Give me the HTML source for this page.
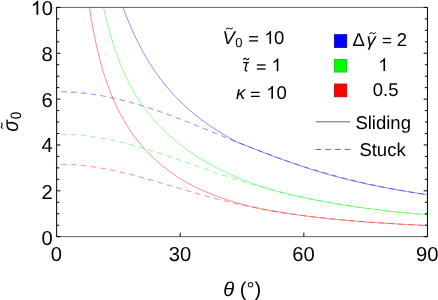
<!DOCTYPE html>
<html><head><meta charset="utf-8"><title>plot</title>
<style>
html,body{margin:0;padding:0;background:#fff;}
svg{display:block;will-change:transform;}
text{font-family:"Liberation Sans",sans-serif;fill:#000;text-rendering:geometricPrecision;}
.t19{font-size:20.2px;}
.t18{font-size:18.5px;}
.it{font-style:italic;}
</style></head><body>
<svg width="438" height="300" viewBox="0 0 438 300">
<rect x="0" y="0" width="438" height="300" fill="#fff"/>
<defs><clipPath id="cp"><rect x="56.65" y="7.42" width="370.8" height="229.23000000000002"/></clipPath></defs>
<g clip-path="url(#cp)" fill="none" stroke-width="0.9" stroke-opacity="0.5" stroke-linejoin="round">
<path d="M57.00,91.68 L61.11,91.71 L65.22,91.82 L69.33,91.99 L73.44,92.24 L77.56,92.55 L81.67,92.93 L85.78,93.38 L89.89,93.89 L94.00,94.47 L98.11,95.12 L102.22,95.83 L106.33,96.60 L110.44,97.44 L114.56,98.33 L118.67,99.28 L122.78,100.29 L126.89,101.35 L131.00,102.47 L135.11,103.63 L139.22,104.85 L143.33,106.11 L147.44,107.42 L151.56,108.77 L155.67,110.15 L159.78,111.58 L163.89,113.04 L168.00,114.53 L172.11,116.06 L176.22,117.61 L180.33,119.18 L184.44,120.78 L188.56,122.39 L192.67,124.03 L196.78,125.67 L200.89,127.33 L205.00,129.00 L209.11,130.68 L213.22,132.36 L217.33,134.04 L221.44,135.72 L225.56,137.40 L229.67,139.07 L233.78,140.74 L237.89,142.40 L242.00,144.04 L246.11,145.68 L250.22,147.30 L254.33,148.90 L258.44,150.49 L262.56,152.05 L266.67,153.60 L270.78,155.13 L274.89,156.63 L279.00,158.12 L283.11,159.57 L287.22,161.01 L291.33,162.41 L295.44,163.80 L299.56,165.15 L303.67,166.48 L307.78,167.79 L311.89,169.06 L316.00,170.31 L320.11,171.53 L324.22,172.73 L328.33,173.90 L332.44,175.04 L336.56,176.15 L340.67,177.24 L344.78,178.30 L348.89,179.34 L353.00,180.35 L357.11,181.34 L361.22,182.30 L365.33,183.24 L369.44,184.15 L373.56,185.04 L377.67,185.91 L381.78,186.75 L385.89,187.57 L390.00,188.37 L394.11,189.15 L398.22,189.91 L402.33,190.65 L406.44,191.37 L410.56,192.07 L414.67,192.75 L418.78,193.41 L422.89,194.06 L427.00,194.69" stroke="#0000ff" stroke-dasharray="5.55 4.26" stroke-dashoffset="5.55"/>
<path d="M57.00,134.15 L61.11,134.19 L65.22,134.29 L69.33,134.47 L73.44,134.71 L77.56,135.02 L81.67,135.40 L85.78,135.85 L89.89,136.36 L94.00,136.94 L98.11,137.58 L102.22,138.28 L106.33,139.04 L110.44,139.86 L114.56,140.74 L118.67,141.67 L122.78,142.65 L126.89,143.68 L131.00,144.76 L135.11,145.89 L139.22,147.05 L143.33,148.26 L147.44,149.50 L151.56,150.77 L155.67,152.08 L159.78,153.41 L163.89,154.77 L168.00,156.14 L172.11,157.54 L176.22,158.95 L180.33,160.37 L184.44,161.80 L188.56,163.24 L192.67,164.68 L196.78,166.12 L200.89,167.56 L205.00,168.99 L209.11,170.41 L213.22,171.83 L217.33,173.23 L221.44,174.62 L225.56,175.99 L229.67,177.34 L233.78,178.67 L237.89,179.99 L242.00,181.28 L246.11,182.55 L250.22,183.79 L254.33,185.01 L258.44,186.20 L262.56,187.37 L266.67,188.50 L270.78,189.62 L274.89,190.70 L279.00,191.76 L283.11,192.79 L287.22,193.79 L291.33,194.77 L295.44,195.71 L299.56,196.64 L303.67,197.53 L307.78,198.40 L311.89,199.24 L316.00,200.06 L320.11,200.86 L324.22,201.63 L328.33,202.38 L332.44,203.10 L336.56,203.81 L340.67,204.49 L344.78,205.15 L348.89,205.79 L353.00,206.41 L357.11,207.01 L361.22,207.59 L365.33,208.16 L369.44,208.71 L373.56,209.24 L377.67,209.75 L381.78,210.25 L385.89,210.73 L390.00,211.20 L394.11,211.65 L398.22,212.09 L402.33,212.52 L406.44,212.93 L410.56,213.33 L414.67,213.72 L418.78,214.10 L422.89,214.46 L427.00,214.81" stroke="#00ff00" stroke-dasharray="5.55 4.26" stroke-dashoffset="5.55"/>
<path d="M57.00,164.19 L61.11,164.22 L65.22,164.33 L69.33,164.50 L73.44,164.75 L77.56,165.06 L81.67,165.43 L85.78,165.88 L89.89,166.39 L94.00,166.96 L98.11,167.59 L102.22,168.28 L106.33,169.03 L110.44,169.83 L114.56,170.68 L118.67,171.58 L122.78,172.53 L126.89,173.52 L131.00,174.55 L135.11,175.61 L139.22,176.71 L143.33,177.84 L147.44,178.99 L151.56,180.16 L155.67,181.35 L159.78,182.56 L163.89,183.77 L168.00,185.00 L172.11,186.22 L176.22,187.45 L180.33,188.67 L184.44,189.89 L188.56,191.09 L192.67,192.29 L196.78,193.47 L200.89,194.64 L205.00,195.78 L209.11,196.91 L213.22,198.01 L217.33,199.09 L221.44,200.15 L225.56,201.18 L229.67,202.18 L233.78,203.16 L237.89,204.10 L242.00,205.03 L246.11,205.92 L250.22,206.78 L254.33,207.62 L258.44,208.43 L262.56,209.22 L266.67,209.97 L270.78,210.70 L274.89,211.41 L279.00,212.09 L283.11,212.75 L287.22,213.38 L291.33,213.99 L295.44,214.58 L299.56,215.15 L303.67,215.69 L307.78,216.22 L311.89,216.73 L316.00,217.22 L320.11,217.69 L324.22,218.14 L328.33,218.58 L332.44,219.00 L336.56,219.41 L340.67,219.80 L344.78,220.18 L348.89,220.54 L353.00,220.90 L357.11,221.23 L361.22,221.56 L365.33,221.88 L369.44,222.18 L373.56,222.48 L377.67,222.76 L381.78,223.03 L385.89,223.30 L390.00,223.56 L394.11,223.80 L398.22,224.04 L402.33,224.27 L406.44,224.50 L410.56,224.71 L414.67,224.92 L418.78,225.12 L422.89,225.32 L427.00,225.51" stroke="#ff0000" stroke-dasharray="5.55 4.26" stroke-dashoffset="5.55"/>
<path d="M115.58,-14.54 L116.61,-11.24 L117.64,-8.03 L118.67,-4.90 L119.69,-1.84 L120.72,1.15 L121.75,4.06 L122.78,6.90 L123.81,9.69 L124.83,12.40 L125.86,15.06 L126.89,17.65 L127.92,20.19 L128.94,22.68 L129.97,25.11 L131.00,27.48 L132.03,29.81 L133.06,32.09 L134.08,34.32 L135.11,36.51 L136.14,38.65 L137.17,40.74 L138.19,42.80 L139.22,44.81 L140.25,46.78 L141.28,48.72 L142.31,50.62 L143.33,52.48 L144.36,54.30 L145.39,56.09 L146.42,57.85 L147.44,59.57 L148.47,61.26 L149.50,62.92 L150.53,64.55 L151.56,66.15 L152.58,67.73 L153.61,69.27 L154.64,70.79 L155.67,72.28 L156.69,73.74 L157.72,75.18 L158.75,76.59 L159.78,77.98 L160.81,79.35 L161.83,80.69 L162.86,82.01 L163.89,83.31 L164.92,84.59 L165.94,85.85 L166.97,87.09 L168.00,88.31 L169.03,89.50 L170.06,90.69 L171.08,91.85 L172.11,92.99 L173.14,94.12 L174.17,95.23 L175.19,96.32 L176.22,97.40 L177.25,98.46 L178.28,99.51 L179.31,100.54 L180.33,101.56 L184.44,105.48 L188.56,109.20 L192.67,112.73 L196.78,116.08 L200.89,119.28 L205.00,122.33 L209.11,125.24 L213.22,128.02 L217.33,130.69 L221.44,133.26 L225.56,135.72 L229.67,138.08 L233.78,140.36 L237.89,142.40 L242.00,144.04 L246.11,145.68 L250.22,147.31 L254.33,148.93 L258.44,150.53 L262.56,152.12 L266.67,153.70 L270.78,155.26 L274.89,156.80 L279.00,158.32 L283.11,159.82 L287.22,161.29 L291.33,162.74 L295.44,164.17 L299.56,165.56 L303.67,166.93 L307.78,168.27 L311.89,169.57 L316.00,170.85 L320.11,172.09 L324.22,173.31 L328.33,174.49 L332.44,175.63 L336.56,176.75 L340.67,177.83 L344.78,178.88 L348.89,179.90 L353.00,180.89 L357.11,181.85 L361.22,182.78 L365.33,183.68 L369.44,184.56 L373.56,185.41 L377.67,186.23 L381.78,187.04 L385.89,187.82 L390.00,188.58 L394.11,189.32 L398.22,190.04 L402.33,190.75 L406.44,191.44 L410.56,192.12 L414.67,192.78 L418.78,193.43 L422.89,194.06 L427.00,194.69" stroke="#0000ff"/>
<path d="M99.14,-14.54 L100.17,-8.99 L101.19,-3.70 L102.22,1.35 L103.25,6.19 L104.28,10.81 L105.31,15.24 L106.33,19.49 L107.36,23.57 L108.39,27.49 L109.42,31.26 L110.44,34.89 L111.47,38.38 L112.50,41.74 L113.53,44.99 L114.56,48.12 L115.58,51.14 L116.61,54.06 L117.64,56.89 L118.67,59.62 L119.69,62.27 L120.72,64.83 L121.75,67.31 L122.78,69.72 L123.81,72.06 L124.83,74.32 L125.86,76.53 L126.89,78.67 L127.92,80.75 L128.94,82.78 L129.97,84.75 L131.00,86.68 L132.03,88.55 L133.06,90.37 L134.08,92.15 L135.11,93.89 L136.14,95.59 L137.17,97.24 L138.19,98.86 L139.22,100.45 L140.25,101.99 L141.28,103.51 L142.31,104.99 L143.33,106.44 L144.36,107.86 L145.39,109.25 L146.42,110.61 L147.44,111.95 L148.47,113.26 L149.50,114.55 L150.53,115.81 L151.56,117.05 L152.58,118.27 L153.61,119.46 L154.64,120.64 L155.67,121.79 L156.69,122.93 L157.72,124.04 L158.75,125.14 L159.78,126.22 L160.81,127.28 L161.83,128.32 L162.86,129.35 L163.89,130.36 L164.92,131.36 L165.94,132.34 L166.97,133.31 L168.00,134.27 L169.03,135.20 L170.06,136.13 L171.08,137.04 L172.11,137.94 L173.14,138.83 L174.17,139.71 L175.19,140.57 L176.22,141.42 L177.25,142.26 L178.28,143.09 L179.31,143.91 L180.33,144.72 L184.44,147.85 L188.56,150.83 L192.67,153.67 L196.78,156.38 L200.89,158.96 L205.00,161.44 L209.11,163.80 L213.22,166.06 L217.33,168.23 L221.44,170.30 L225.56,172.29 L229.67,174.20 L233.78,176.03 L237.89,177.78 L242.00,179.47 L246.11,181.08 L250.22,182.63 L254.33,184.12 L258.44,185.55 L262.56,186.92 L266.67,188.24 L270.78,189.50 L274.89,190.70 L279.00,191.76 L283.11,192.79 L287.22,193.79 L291.33,194.77 L295.44,195.71 L299.56,196.64 L303.67,197.53 L307.78,198.40 L311.89,199.24 L316.00,200.06 L320.11,200.86 L324.22,201.63 L328.33,202.38 L332.44,203.10 L336.56,203.81 L340.67,204.49 L344.78,205.15 L348.89,205.79 L353.00,206.41 L357.11,207.01 L361.22,207.59 L365.33,208.16 L369.44,208.71 L373.56,209.24 L377.67,209.75 L381.78,210.25 L385.89,210.73 L390.00,211.20 L394.11,211.65 L398.22,212.09 L402.33,212.52 L406.44,212.93 L410.56,213.33 L414.67,213.72 L418.78,214.10 L422.89,214.46 L427.00,214.81" stroke="#00ff00"/>
<path d="M86.81,-11.08 L87.83,-3.40 L88.86,3.78 L89.89,10.53 L90.92,16.88 L91.94,22.86 L92.97,28.51 L94.00,33.85 L95.03,38.92 L96.06,43.73 L97.08,48.30 L98.11,52.65 L99.14,56.80 L100.17,60.75 L101.19,64.54 L102.22,68.16 L103.25,71.63 L104.28,74.95 L105.31,78.15 L106.33,81.22 L107.36,84.17 L108.39,87.02 L109.42,89.77 L110.44,92.42 L111.47,94.98 L112.50,97.45 L113.53,99.85 L114.56,102.17 L115.58,104.42 L116.61,106.60 L117.64,108.71 L118.67,110.77 L119.69,112.77 L120.72,114.71 L121.75,116.60 L122.78,118.44 L123.81,120.24 L124.83,121.99 L125.86,123.69 L126.89,125.36 L127.92,126.98 L128.94,128.57 L129.97,130.12 L131.00,131.63 L132.03,133.11 L133.06,134.56 L134.08,135.98 L135.11,137.36 L136.14,138.72 L137.17,140.05 L138.19,141.36 L139.22,142.63 L140.25,143.88 L141.28,145.11 L142.31,146.31 L143.33,147.49 L144.36,148.65 L145.39,149.79 L146.42,150.90 L147.44,151.99 L148.47,153.07 L149.50,154.12 L150.53,155.16 L151.56,156.18 L152.58,157.18 L153.61,158.16 L154.64,159.12 L155.67,160.07 L156.69,161.01 L157.72,161.92 L158.75,162.82 L159.78,163.71 L160.81,164.58 L161.83,165.44 L162.86,166.28 L163.89,167.11 L164.92,167.92 L165.94,168.73 L166.97,169.52 L168.00,170.29 L169.03,171.06 L170.06,171.81 L171.08,172.55 L172.11,173.28 L173.14,173.99 L174.17,174.70 L175.19,175.40 L176.22,176.08 L177.25,176.75 L178.28,177.42 L179.31,178.07 L180.33,178.71 L184.44,181.19 L188.56,183.52 L192.67,185.71 L196.78,187.78 L200.89,189.72 L205.00,191.56 L209.11,193.30 L213.22,194.94 L217.33,196.49 L221.44,197.96 L225.56,199.35 L229.67,200.67 L233.78,201.92 L237.89,203.11 L242.00,204.23 L246.11,205.30 L250.22,206.31 L254.33,207.28 L258.44,208.20 L262.56,209.08 L266.67,209.91 L270.78,210.70 L274.89,211.41 L279.00,212.09 L283.11,212.75 L287.22,213.38 L291.33,213.99 L295.44,214.58 L299.56,215.15 L303.67,215.69 L307.78,216.22 L311.89,216.73 L316.00,217.22 L320.11,217.69 L324.22,218.14 L328.33,218.58 L332.44,219.00 L336.56,219.41 L340.67,219.80 L344.78,220.18 L348.89,220.54 L353.00,220.90 L357.11,221.23 L361.22,221.56 L365.33,221.88 L369.44,222.18 L373.56,222.48 L377.67,222.76 L381.78,223.03 L385.89,223.30 L390.00,223.56 L394.11,223.80 L398.22,224.04 L402.33,224.27 L406.44,224.50 L410.56,224.71 L414.67,224.92 L418.78,225.12 L422.89,225.32 L427.00,225.51" stroke="#ff0000"/>
</g>
<g fill="none" stroke="#000">
<path d="M56.65,7.12V236.95000000000002 M427.45,7.12V236.95000000000002" stroke-width="1"/>
<path d="M56.65,7.42H427.45 M56.65,236.65H427.45" stroke-width="0.62"/>
<path d="M56.65,236.65h3.8 M427.45,236.65h-3.8 M56.65,225.19h2.6 M427.45,225.19h-2.6 M56.65,213.73h2.6 M427.45,213.73h-2.6 M56.65,202.27h2.6 M427.45,202.27h-2.6 M56.65,190.80h3.8 M427.45,190.80h-3.8 M56.65,179.34h2.6 M427.45,179.34h-2.6 M56.65,167.88h2.6 M427.45,167.88h-2.6 M56.65,156.42h2.6 M427.45,156.42h-2.6 M56.65,144.96h3.8 M427.45,144.96h-3.8 M56.65,133.50h2.6 M427.45,133.50h-2.6 M56.65,122.03h2.6 M427.45,122.03h-2.6 M56.65,110.57h2.6 M427.45,110.57h-2.6 M56.65,99.11h3.8 M427.45,99.11h-3.8 M56.65,87.65h2.6 M427.45,87.65h-2.6 M56.65,76.19h2.6 M427.45,76.19h-2.6 M56.65,64.73h2.6 M427.45,64.73h-2.6 M56.65,53.27h3.8 M427.45,53.27h-3.8 M56.65,41.80h2.6 M427.45,41.80h-2.6 M56.65,30.34h2.6 M427.45,30.34h-2.6 M56.65,18.88h2.6 M427.45,18.88h-2.6 M56.65,7.42h3.8 M427.45,7.42h-3.8 M180.25,236.65v-4.0 M303.85,236.65v-4.0" stroke-width="1"/>
</g>
<g class="t19">
<text x="52.7" y="244.60" text-anchor="end">0</text>
<text x="52.7" y="198.60" text-anchor="end">2</text>
<text x="52.7" y="152.36" text-anchor="end">4</text>
<text x="52.7" y="107.11" text-anchor="end">6</text>
<text x="52.7" y="61.07" text-anchor="end">8</text>
<text x="53.1" y="14.82" text-anchor="end">0</text>
<path d="M763 0H583V1100Q430 970 223 890V1060Q530 1200 645 1420H763Z" transform="translate(30.73,14.82) scale(0.00986,-0.00986)" fill="#000"/>
<text x="56.35" y="261.2" text-anchor="middle">0</text>
<text x="179.95" y="261.2" text-anchor="middle">30</text>
<text x="303.55" y="261.2" text-anchor="middle">60</text>
<text x="427.15" y="261.2" text-anchor="middle">90</text>
</g>
<!-- axis titles -->
<text class="t19" x="242.3" y="295.8" text-anchor="middle"><tspan class="it">θ</tspan> (°)</text>
<g transform="translate(17.6,131.3) rotate(-90)">
<text class="it" font-size="22" transform="translate(-0.34,0) scale(0.88,1)" x="0" y="0">σ</text>
<text font-size="15" transform="translate(12.07,3.1) scale(0.9,1)" x="0" y="0">0</text>
<path d="M2.7,-15 q1.5,-2 3,-0.8 t3,-0.8" fill="none" stroke="#000" stroke-width="1.1"/>
</g>
<!-- left legend -->
<g class="t18">
<text class="it" x="222.4" y="43.75">V</text>
<text font-size="13" x="235.3" y="46.7">0</text>
<rect x="249.10" y="36.15" width="8.90" height="1.3" fill="#000"/><rect x="249.10" y="40.25" width="8.90" height="1.3" fill="#000"/>
<path d="M763 0H583V1100Q430 970 223 890V1060Q530 1200 645 1420H763Z" transform="translate(264.20,43.75) scale(0.00903,-0.00903)" fill="#000"/><text x="274.1" y="43.75">0</text>
<path d="M226.20,28.97 q1.60,-1.87 3.20,-0.47 t3.20,-0.47" fill="none" stroke="#000" stroke-width="1.0" stroke-linecap="round"/>
<path d="M243.3,62.6H248.9 M246.9,62.6C246.4,65 245.1,68.4 245.2,69.7C245.3,70.9 246.2,71.1 247.3,70.7" fill="none" stroke="#000" stroke-width="1.35"/>
<rect x="256.90" y="64.32" width="8.70" height="1.3" fill="#000"/><rect x="256.90" y="68.33" width="8.70" height="1.3" fill="#000"/>
<path d="M763 0H583V1100Q430 970 223 890V1060Q530 1200 645 1420H763Z" transform="translate(271.46,71.30) scale(0.00903,-0.00903)" fill="#000"/>
<path d="M243.60,59.49 q1.30,-1.98 2.60,-0.50 t2.60,-0.50" fill="none" stroke="#000" stroke-width="1.1" stroke-linecap="round"/>
<text class="it" x="235.9" y="98.8">κ</text>
<rect x="250.90" y="91.75" width="8.70" height="1.3" fill="#000"/><rect x="250.90" y="95.75" width="8.70" height="1.3" fill="#000"/>
<path d="M763 0H583V1100Q430 970 223 890V1060Q530 1200 645 1420H763Z" transform="translate(266.10,98.80) scale(0.00903,-0.00903)" fill="#000"/><text x="276.6" y="98.8">0</text>
</g>
<!-- right legend -->
<rect x="334.45" y="34.65" width="12.3" height="12.8" fill="#0000ff" stroke="#0000c4" stroke-width="0.8"/>
<rect x="334.45" y="59.45" width="12.3" height="12.6" fill="#00ff00" stroke="#00c400" stroke-width="0.8"/>
<rect x="334.45" y="84.0" width="12.3" height="12.8" fill="#ff0000" stroke="#c40000" stroke-width="0.8"/>
<g class="t18">
<text x="352.4" y="45.5">Δ</text>
<text class="it" x="366.6" y="45.5">γ</text>
<rect x="382.80" y="37.85" width="8.30" height="1.3" fill="#000"/><rect x="382.80" y="41.95" width="8.30" height="1.3" fill="#000"/>
<text x="396.8" y="45.5">2</text>
<path d="M369.50,33.61 q1.50,-1.65 3.00,-0.41 t3.00,-0.41" fill="none" stroke="#000" stroke-width="1.0" stroke-linecap="round"/>
<path d="M763 0H583V1100Q430 970 223 890V1060Q530 1200 645 1420H763Z" transform="translate(378.20,71.00) scale(0.00903,-0.00903)" fill="#000"/>
<text x="385.7" y="95.6" text-anchor="middle">0.5</text>
<text x="355.4" y="128.5">Sliding</text>
<text x="359.4" y="156.4">Stuck</text>
</g>
<path d="M315.8,121.8H350.2" stroke="#000" stroke-width="0.6" fill="none"/>
<path d="M315.6,149.4H350.4" stroke="#000" stroke-width="0.6" fill="none" stroke-dasharray="5.7 4.0"/>
</svg>
</body></html>
